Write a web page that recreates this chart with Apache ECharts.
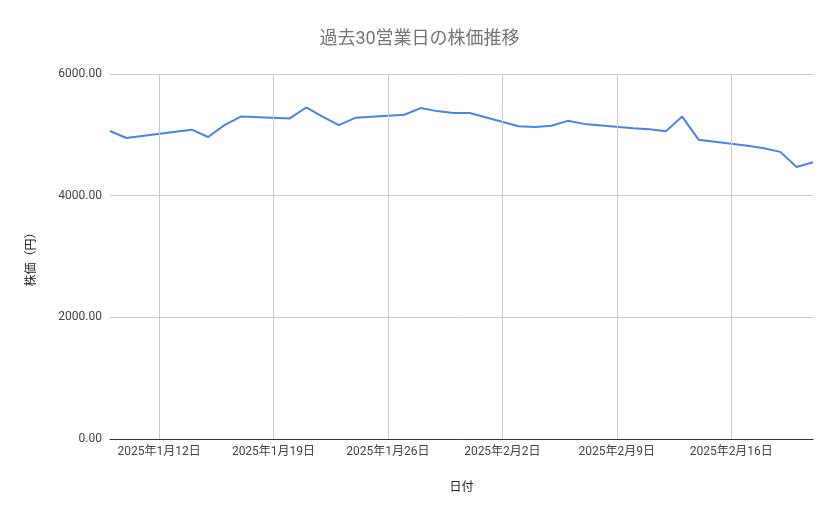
<!DOCTYPE html>
<html><head><meta charset="utf-8">
<script src="https://cdn.jsdelivr.net/npm/echarts@6/dist/echarts.min.js"></script>
<style>html,body{margin:0;padding:0;background:#fff}#c{width:839px;height:519px}</style>
</head><body><div id="c"></div>
<script>
const dates = ['2025-01-09','2025-01-10','2025-01-13','2025-01-14','2025-01-15','2025-01-16','2025-01-17','2025-01-20','2025-01-21','2025-01-22','2025-01-23','2025-01-24','2025-01-27','2025-01-28','2025-01-29','2025-01-30','2025-01-31','2025-02-03','2025-02-04','2025-02-05','2025-02-06','2025-02-07','2025-02-10','2025-02-11','2025-02-12','2025-02-13','2025-02-14','2025-02-17','2025-02-18','2025-02-19','2025-02-20','2025-02-21'];
const prices = [5063,4948,5050,5085,4965,5160,5300,5270,5450,5300,5160,5280,5330,5440,5390,5360,5360,5140,5130,5150,5230,5180,5110,5090,5060,5300,4920,4820,4780,4720,4470,4550];
const tickDates = ['2025-01-12','2025-01-19','2025-01-26','2025-02-02','2025-02-09','2025-02-16'];
const ff = 'Roboto, "Noto Sans CJK JP", sans-serif';
const ts = d => new Date(d + 'T00:00:00').getTime();
const fmt = v => {const d=new Date(v);return d.getFullYear()+'年'+(d.getMonth()+1)+'月'+d.getDate()+'日';};
const chart = echarts.init(document.getElementById('c'));
chart.setOption({
  animation:false,
  title:{text:'過去30営業日の株価推移',left:'center',top:26,textStyle:{color:'#757575',fontSize:18,fontWeight:'normal',fontFamily:ff}},
  grid:{left:110,right:26,top:74,bottom:80},
  xAxis:{type:'value',min:ts(dates[0]),max:ts(dates[dates.length-1]),
    name:'日付',nameLocation:'middle',nameGap:43,nameTextStyle:{color:'#222',fontSize:12,fontFamily:ff},
    axisLine:{lineStyle:{color:'#333'}},axisTick:{show:false},splitLine:{show:false},
    axisLabel:{show:false}},
  yAxis:{type:'value',min:0,max:6000,interval:2000,
    name:'株価（円）',nameLocation:'middle',nameGap:72,nameTextStyle:{color:'#222',fontSize:12,fontFamily:ff},
    axisLine:{show:false},axisTick:{show:false},
    splitLine:{lineStyle:{color:'#ccc'}},
    axisLabel:{color:'#444',fontSize:12,fontFamily:ff,formatter:v=>v.toFixed(2)}},
  series:[{type:'line',data:dates.map((d,i)=>[ts(d),prices[i]]),showSymbol:false,
    lineStyle:{color:'#4a86e8',width:2},
    markLine:{silent:true,symbol:'none',
      label:{show:true,position:'start',distance:7,color:'#444',fontSize:12,fontFamily:ff,formatter:p=>fmt(p.value)},
      lineStyle:{color:'#ccc',type:'solid',width:1},
      data:tickDates.map(d=>({xAxis:ts(d)}))}}]
});
</script></body></html>
